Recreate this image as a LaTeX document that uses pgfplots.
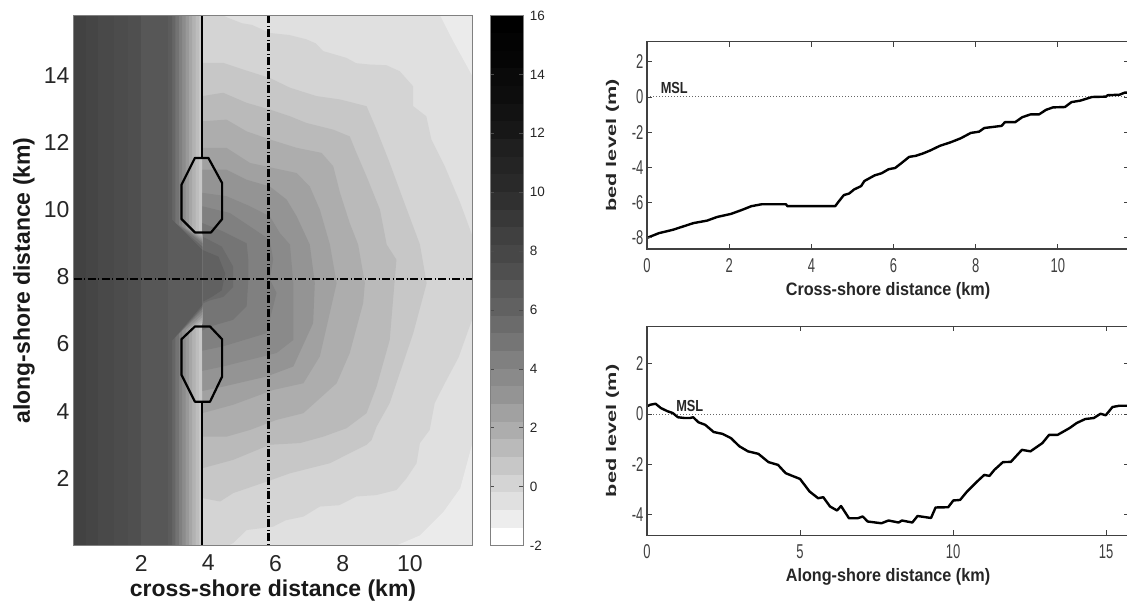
\documentclass[border=0pt]{standalone}
\usepackage{fontspec}
\setmainfont{Liberation Sans}
\newfontfamily\nar[FakeStretch=0.65]{Liberation Sans}
\newfontfamily\msl[FakeStretch=0.8]{Liberation Sans}
\newfontfamily\xl[FakeStretch=0.9]{Liberation Sans}
\newfontfamily\wid[FakeStretch=1.55]{Liberation Sans}
\usepackage{pgfplots}
\pgfplotsset{compat=1.18}
\newcommand{\fs}[1]{\fontsize{#1}{#1}\selectfont}
\pgfplotsset{
  panel/.style={
    scale only axis, axis on top,
    /pgf/number format/assume math mode=true,
    tick align=inside, major tick length=5pt,
    axis line style={black!75,line width=1.1pt},
    tick style={black!75,line width=0.9pt},
    xlabel style={font=\xl\bfseries\fs{18},black!85,at={(axis description cs:0.5,0)},anchor=center,yshift=-42pt},
    ylabel style={font=\wid\bfseries\fs{14},black!85,yshift=6pt},
    xticklabel style={font=\nar\fs{20},black!75,yshift=-6pt},
    yticklabel style={font=\nar\fs{20},black!75},
  },
  strip/.style={draw=none,fill=black!#1},
  curve/.style={black,line width=2.4pt,line join=round},
  msl/.style={black!60,line width=1pt,dotted},
  dd/.style={black,line width=2.4pt,dash pattern=on 8pt off 2.5pt on 1pt off 2.5pt},
  st/.style={black,line width=2.2pt,line join=round},
}
\begin{document}
\begin{tikzpicture}[x=1pt,y=1pt]
\path[use as bounding box] (0,0) rectangle (1127,604);

% ---------------- map
\begin{axis}[
  at={(74pt,58.5pt)},anchor=south west,scale only axis,width=398pt,height=530pt,
  xmin=0,xmax=11.85,ymin=0,ymax=15.78,axis on top,
  xtick={2,4,6,8,10},ytick={2,4,6,8,10,12,14},
  major tick length=0pt,
  axis line style={black!50,line width=1pt},
  /pgf/number format/assume math mode=true,
  ticklabel style={font=\fs{23},black!85},
  xticklabel style={yshift=-6pt},
  yticklabel style={xshift=-1pt},
  xlabel={cross-shore distance (km)},ylabel={along-shore distance (km)},
  xlabel style={font=\bfseries\fs{23},black!90,at={(axis description cs:0.5,0)},anchor=center,yshift=-45.5pt},
  ylabel style={font=\bfseries\fs{23},black!90,at={(axis description cs:0,0.5)},anchor=center,rotate=0,yshift=50pt},
]
% right-hand background
\addplot[strip=12] coordinates {(3.8,0)(11.85,0)(11.85,15.78)(3.8,15.78)} -- cycle;
\addplot[strip=8] coordinates {(11.85,15.78)(10.9,15.78)(11.3,15.0)(11.85,14.0)} -- cycle;
\addplot[strip=8] coordinates {(11.85,0)(9.6,0)(10.3,0.3)(11.0,1.0)(11.5,1.7)(11.85,3.0)} -- cycle;
% contours from outside to inside
\addplot[strip=17] coordinates {(3.82,15.78)(4.44,15.78)(4.59,15.71)(5.0,15.55)(5.3,15.5)(5.83,15.26)(6.4,15.2)(6.92,15.07)(7.2,14.95)(7.42,14.72)(8.11,14.52)(8.4,14.36)(8.81,14.32)(9.3,14.3)(9.70,14.12)(10.10,13.67)(10.10,13.08)(10.49,12.78)(10.64,12.09)(11.04,11.29)(11.5,10.2)(11.85,9.25)(11.85,6.72)(11.45,5.6)(11.04,4.83)(10.74,4.24)(10.59,3.44)(10.3,3.05)(10.2,2.45)(9.9,2.0)(9.60,1.65)(9.0,1.5)(8.41,1.46)(7.9,1.2)(7.32,1.16)(6.83,0.86)(6.3,0.75)(5.93,0.56)(5.14,0.46)(4.74,0.07)(4.6,0)(3.82,0)} -- cycle;
\addplot[strip=22] coordinates {(3.82,14.37)(4.44,14.37)(5.04,14.17)(5.83,13.92)(6.43,13.63)(7.22,13.38)(7.92,13.28)(8.71,13.08)(9.01,12.38)(9.40,11.39)(9.80,10.30)(10.30,8.96)(10.50,7.81)(10.10,6.32)(9.80,5.43)(9.40,4.24)(9.01,3.54)(8.86,3.14)(8.71,3.0)(7.62,2.45)(6.43,2.15)(5.73,1.90)(4.74,1.56)(4.35,1.31)(3.82,1.41)} -- cycle;
\addplot[strip=27] coordinates {(3.82,13.38)(4.44,13.48)(5.14,13.18)(5.83,12.98)(6.43,12.78)(6.92,12.58)(7.72,12.38)(8.21,12.18)(8.41,11.69)(8.71,10.99)(9.11,10.0)(9.31,8.96)(9.60,8.51)(9.50,7.32)(9.40,6.12)(9.01,4.73)(8.71,3.94)(8.11,3.49)(7.42,3.24)(6.73,3.05)(5.83,3.0)(4.74,2.55)(3.82,2.30)} -- cycle;
\addplot[strip=32] coordinates {(3.82,12.63)(4.54,12.68)(5.14,12.33)(5.83,12.09)(6.63,11.84)(7.37,11.69)(7.72,11.29)(7.92,10.50)(8.21,9.60)(8.46,8.96)(8.66,7.81)(8.61,7.22)(8.21,5.73)(7.82,4.83)(6.83,3.94)(6.03,3.74)(5.24,3.44)(4.54,3.24)(3.82,3.24)} -- cycle;
\addplot[strip=37] coordinates {(3.82,11.84)(4.54,11.84)(5.24,11.39)(5.93,11.24)(6.63,11.09)(7.02,10.69)(7.32,10.0)(7.62,8.96)(7.82,7.81)(7.32,5.63)(6.83,4.83)(5.93,4.63)(4.74,4.19)(3.82,3.94)} -- cycle;
\addplot[strip=42] coordinates {(3.82,11.19)(4.54,11.19)(5.14,10.89)(5.83,10.69)(6.33,10.30)(6.63,9.80)(7.02,8.96)(7.17,7.81)(7.12,6.62)(6.53,5.33)(5.73,5.03)(4.44,4.73)(3.82,4.6)} -- cycle;
\addplot[strip=46] coordinates {(3.82,10.50)(4.54,10.40)(5.24,10.10)(5.83,9.80)(6.13,9.30)(6.43,8.96)(6.53,7.81)(6.53,6.12)(6.03,5.73)(4.44,5.33)(3.82,5.2)} -- cycle;
\addplot[strip=50] coordinates {(3.82,10.10)(4.64,9.90)(5.24,9.50)(5.83,9.10)(5.93,8.51)(5.83,7.93)(6.03,7.52)(5.73,6.32)(4.44,5.93)(3.82,5.8)} -- cycle;
\addplot[strip=54] coordinates {(3.82,9.60)(4.44,9.35)(5.14,9.0)(5.19,8.51)(5.19,7.91)(5.14,7.12)(4.74,6.72)(4.05,6.52)(3.82,6.4)} -- cycle;
\addplot[strip=58] coordinates {(3.82,9.2)(4.4,8.9)(4.74,8.3)(4.74,7.7)(4.44,7.4)(4.05,7.3)(3.82,7.2)} -- cycle;
\addplot[strip=62] coordinates {(3.82,8.8)(4.3,8.6)(4.5,8.1)(4.4,7.6)(4.1,7.4)(3.82,7.25)} -- cycle;
% dune gradient, from the light crest outwards
\addplot[strip=22] coordinates {(0,0)(3.82,0)(3.82,15.78)(0,15.78)} -- cycle;
\addplot[strip=26] coordinates {(0,0)(3.72,0)(3.72,6.55)(3.82,6.6)(3.82,9.28)(3.72,9.32)(3.72,15.78)(0,15.78)} -- cycle;
\addplot[strip=30] coordinates {(0,0)(3.62,0)(3.62,6.5)(3.82,6.65)(3.82,9.25)(3.62,9.35)(3.62,15.78)(0,15.78)} -- cycle;
\addplot[strip=35] coordinates {(0,0)(3.52,0)(3.52,6.48)(3.82,6.72)(3.82,9.2)(3.52,9.38)(3.52,15.78)(0,15.78)} -- cycle;
\addplot[strip=40] coordinates {(0,0)(3.42,0)(3.42,6.45)(3.82,6.8)(3.82,9.15)(3.42,9.42)(3.42,15.78)(0,15.78)} -- cycle;
\addplot[strip=45] coordinates {(0,0)(3.32,0)(3.32,6.42)(3.82,6.88)(3.82,9.1)(3.32,9.45)(3.32,15.78)(0,15.78)} -- cycle;
\addplot[strip=50] coordinates {(0,0)(3.22,0)(3.22,6.4)(3.82,6.96)(3.82,9.05)(3.22,9.5)(3.22,15.78)(0,15.78)} -- cycle;
\addplot[strip=55] coordinates {(0,0)(3.12,0)(3.12,6.3)(3.82,7.04)(3.82,9.0)(3.12,9.55)(3.12,15.78)(0,15.78)} -- cycle;
\addplot[strip=60] coordinates {(0,0)(3.02,0)(3.02,6.2)(3.82,7.1)(3.82,8.9)(3.02,9.6)(3.02,15.78)(0,15.78)} -- cycle;
\addplot[strip=64] coordinates {(0,0)(2.92,0)(2.92,6.1)(3.82,7.16)(3.82,8.8)(2.92,9.7)(2.92,15.78)(0,15.78)} -- cycle;
\addplot[strip=66] coordinates {(0,0)(2.8,0)(2.8,15.78)(0,15.78)} -- cycle;
\addplot[strip=69] coordinates {(0,0)(2.0,0)(2.0,15.78)(0,15.78)} -- cycle;
\addplot[strip=70] coordinates {(0,0)(1.6,0)(1.6,15.78)(0,15.78)} -- cycle;
\addplot[strip=71.5] coordinates {(0,0)(1.2,0)(1.2,15.78)(0,15.78)} -- cycle;
\addplot[strip=73] coordinates {(0,0)(0.7,0)(0.7,15.78)(0,15.78)} -- cycle;
\addplot[strip=74] coordinates {(0,0)(0.35,0)(0.35,15.78)(0,15.78)} -- cycle;
% structures
\addplot[st] coordinates {(3.82,0)(3.82,4.28)};
\addplot[st] coordinates {(3.82,11.54)(3.82,15.78)};
\addplot[st] coordinates {(3.60,11.54)(4.0,11.54)(4.41,10.79)(4.41,9.72)(4.08,9.32)(3.60,9.32)(3.20,9.72)(3.20,10.74)} -- cycle;
\addplot[st] coordinates {(3.60,6.52)(4.05,6.52)(4.41,6.14)(4.41,5.03)(4.05,4.28)(3.60,4.28)(3.20,5.08)(3.20,6.14)} -- cycle;
\addplot[dd] coordinates {(5.79,15.78)(5.79,0)};
\addplot[dd] coordinates {(0,7.93)(11.85,7.93)};
\end{axis}

% ---------------- colour bar
\begin{axis}[
  at={(490pt,58.5pt)},anchor=south west,scale only axis,width=33.3pt,height=530pt,
  xmin=0,xmax=1,ymin=-2,ymax=16,axis on top,
  xtick=\empty,ytick={-2,0,...,16},
  ytick pos=both,yticklabel pos=right,tick align=inside,major tick length=4pt,
  tick style={black!70,line width=0.6pt},
  axis line style={black!50,line width=1pt},
  /pgf/number format/assume math mode=true,
  yticklabel style={font=\fs{13.5},black!85,xshift=3pt},
]
\addplot[strip=0] coordinates {(0,-2)(1,-2)(1,16)(0,16)} -- cycle;
\addplot[strip=7] coordinates {(0,-1.4)(1,-1.4)(1,16)(0,16)} -- cycle;
\addplot[strip=12] coordinates {(0,-0.8)(1,-0.8)(1,16)(0,16)} -- cycle;
\addplot[strip=17] coordinates {(0,-0.2)(1,-0.2)(1,16)(0,16)} -- cycle;
\addplot[strip=22] coordinates {(0,0.4)(1,0.4)(1,16)(0,16)} -- cycle;
\addplot[strip=27] coordinates {(0,1.0)(1,1.0)(1,16)(0,16)} -- cycle;
\addplot[strip=32] coordinates {(0,1.6)(1,1.6)(1,16)(0,16)} -- cycle;
\addplot[strip=37] coordinates {(0,2.2)(1,2.2)(1,16)(0,16)} -- cycle;
\addplot[strip=42] coordinates {(0,2.8)(1,2.8)(1,16)(0,16)} -- cycle;
\addplot[strip=46] coordinates {(0,3.4)(1,3.4)(1,16)(0,16)} -- cycle;
\addplot[strip=50] coordinates {(0,4.0)(1,4.0)(1,16)(0,16)} -- cycle;
\addplot[strip=54] coordinates {(0,4.6)(1,4.6)(1,16)(0,16)} -- cycle;
\addplot[strip=58] coordinates {(0,5.2)(1,5.2)(1,16)(0,16)} -- cycle;
\addplot[strip=62] coordinates {(0,5.8)(1,5.8)(1,16)(0,16)} -- cycle;
\addplot[strip=65] coordinates {(0,6.4)(1,6.4)(1,16)(0,16)} -- cycle;
\addplot[strip=69] coordinates {(0,7.0)(1,7.0)(1,16)(0,16)} -- cycle;
\addplot[strip=72] coordinates {(0,7.6)(1,7.6)(1,16)(0,16)} -- cycle;
\addplot[strip=75] coordinates {(0,8.2)(1,8.2)(1,16)(0,16)} -- cycle;
\addplot[strip=78] coordinates {(0,8.8)(1,8.8)(1,16)(0,16)} -- cycle;
\addplot[strip=81] coordinates {(0,9.4)(1,9.4)(1,16)(0,16)} -- cycle;
\addplot[strip=84] coordinates {(0,10.0)(1,10.0)(1,16)(0,16)} -- cycle;
\addplot[strip=86] coordinates {(0,10.6)(1,10.6)(1,16)(0,16)} -- cycle;
\addplot[strip=88] coordinates {(0,11.2)(1,11.2)(1,16)(0,16)} -- cycle;
\addplot[strip=91] coordinates {(0,11.8)(1,11.8)(1,16)(0,16)} -- cycle;
\addplot[strip=93] coordinates {(0,12.4)(1,12.4)(1,16)(0,16)} -- cycle;
\addplot[strip=95] coordinates {(0,13.0)(1,13.0)(1,16)(0,16)} -- cycle;
\addplot[strip=96] coordinates {(0,13.6)(1,13.6)(1,16)(0,16)} -- cycle;
\addplot[strip=98] coordinates {(0,14.2)(1,14.2)(1,16)(0,16)} -- cycle;
\addplot[strip=99] coordinates {(0,14.8)(1,14.8)(1,16)(0,16)} -- cycle;
\addplot[strip=100] coordinates {(0,15.4)(1,15.4)(1,16)(0,16)} -- cycle;
\end{axis}

% ---------------- cross-shore profile
\begin{axis}[panel,
  at={(647pt,355pt)},anchor=south west,width=482pt,height=207.3pt,
  xmin=0,xmax=11.73,ymin=-8.63,ymax=3.14,
  xtick={0,2,...,10},ytick={-8,-6,...,2},
  xlabel={Cross-shore distance (km)},ylabel={bed level (m)},
]
\addplot[msl] coordinates {(0,0)(11.73,0)};
\addplot[curve] coordinates {(0,-8.0)(.29,-7.73)(.63,-7.54)(.88,-7.35)(1.13,-7.16)(1.46,-7.02)(1.71,-6.81)(2.04,-6.64)(2.29,-6.43)(2.54,-6.2)(2.79,-6.09)(3.38,-6.09)(3.42,-6.2)(4.58,-6.2)(4.67,-5.92)(4.79,-5.57)(4.92,-5.48)(5.04,-5.25)(5.21,-5.06)(5.29,-4.77)(5.54,-4.45)(5.71,-4.33)(5.88,-4.10)(6.04,-4.03)(6.21,-3.72)(6.38,-3.40)(6.54,-3.34)(6.71,-3.21)(6.88,-3.05)(7.13,-2.77)(7.38,-2.58)(7.63,-2.35)(7.88,-2.04)(8.08,-1.97)(8.21,-1.76)(8.63,-1.64)(8.71,-1.43)(8.96,-1.43)(9.13,-1.15)(9.33,-0.99)(9.54,-0.99)(9.71,-0.73)(9.88,-0.59)(10.17,-0.57)(10.33,-0.29)(10.54,-0.21)(10.83,0)(11.17,.02)(11.21,.1)(11.5,.13)(11.63,.25)(11.73,.25)};
\node[anchor=west,inner sep=0pt,font=\msl\bfseries\fs{16},black!85] at (axis cs:0.33,0.53) {MSL};
\end{axis}

% ---------------- along-shore profile
\begin{axis}[panel,
  at={(647pt,68.7pt)},anchor=south west,width=482pt,height=209pt,
  xmin=0,xmax=15.75,ymin=-4.84,ymax=3.5,
  xtick={0,5,10,15},ytick={-4,-2,0,2},
  xlabel={Along-shore distance (km)},ylabel={bed level (m)},
]
\addplot[msl] coordinates {(0,0)(15.75,0)};
\addplot[curve] coordinates {(0,.31)(.11,.37)(.28,.41)(.45,.24)(.67,.11)(.84,.04)(1.01,-.13)(1.23,-.16)(1.40,-.16)(1.51,-.13)(1.68,-.33)(1.90,-.43)(2.18,-.72)(2.46,-.79)(2.74,-.96)(3.02,-1.29)(3.30,-1.49)(3.64,-1.59)(3.97,-1.92)(4.28,-2.03)(4.53,-2.36)(4.75,-2.47)(5.0,-2.59)(5.31,-3.09)(5.59,-3.36)(5.76,-3.32)(5.98,-3.69)(6.21,-3.85)(6.34,-3.67)(6.60,-4.16)(6.88,-4.16)(7.05,-4.09)(7.21,-4.29)(7.66,-4.36)(7.89,-4.25)(8.22,-4.33)(8.33,-4.25)(8.67,-4.33)(8.84,-4.07)(9.28,-4.15)(9.43,-3.73)(9.84,-3.72)(10.01,-3.45)(10.23,-3.43)(10.46,-3.09)(10.79,-2.69)(11.02,-2.43)(11.19,-2.47)(11.35,-2.23)(11.63,-1.92)(11.89,-1.91)(12.25,-1.43)(12.53,-1.49)(12.92,-1.16)(13.14,-.83)(13.42,-.83)(13.81,-.56)(14.04,-.36)(14.32,-.2)(14.6,-.16)(14.82,.01)(14.99,-.05)(15.21,.28)(15.44,.33)(15.75,.33)};
\node[anchor=west,inner sep=0pt,font=\msl\bfseries\fs{16},black!85] at (axis cs:0.95,0.33) {MSL};
\end{axis}
\end{tikzpicture}
\end{document}
